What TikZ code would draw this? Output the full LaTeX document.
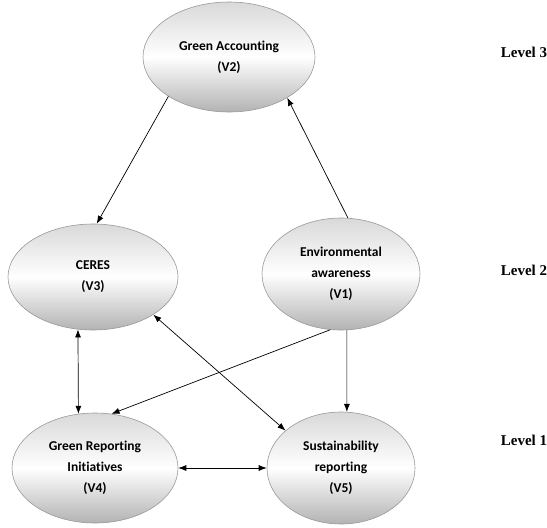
\documentclass[tikz,border=0pt]{standalone}
\usepackage{fontspec}
\setmainfont{Liberation Serif}
\newfontfamily\carl[Ligatures=NoCommon]{Carlito}
\usetikzlibrary{arrows.meta,shapes.geometric}
\begin{document}
\begin{tikzpicture}[x=1pt,y=-1pt,
  var/.style={ellipse,draw=gray!80,line width=0.6pt,inner sep=0pt,top color=gray!30,bottom color=gray!60,middle color=white,
    align=center,font=\carl\bfseries\fontsize{13.5}{21}\selectfont},
  lvl/.style={font=\fontsize{15}{18}\selectfont\bfseries},
  arr/.style={line width=0.7pt,-{Latex[length=8pt,width=6pt]}},
  darr/.style={line width=0.7pt,{Latex[length=8pt,width=6pt]}-{Latex[length=8pt,width=6pt]}}]
\useasboundingbox (0,0) rectangle (547,528);
\node[var,minimum width=172,minimum height=110] (V2) at (229,57) {Green Accounting\\(V2)};
\node[var,minimum width=170,minimum height=106] (V3) at (93,277) {CERES\\(V3)};
\node[var,minimum width=158,minimum height=112] (V1) at (341,274) {Environmental\\awareness\\(V1)};
\node[var,minimum width=166,minimum height=110] (V4) at (95,468) {Green Reporting\\Initiatives\\(V4)};
\node[var,minimum width=148,minimum height=112] (V5) at (341,468) {Sustainability\\reporting\\(V5)};
\node[lvl] (L3) at (524,52) {Level 3};
\node[lvl] (L2) at (524,270) {Level 2};
\node[lvl] (L1) at (524,440) {Level 1};
\draw[arr] (V2.213) -- (V3.86);
\draw[arr] (V1.83) -- (V2.325);
\draw[darr] (V3.254) -- (V4.107);
\draw[arr] (V1.259) -- (V4.73);
\draw[arr] (V1.276) -- (V5.84);
\draw[darr] (V3.328) -- (V5.146);
\draw[darr] (V4.east) -- (V5.west);
\end{tikzpicture}
\end{document}
